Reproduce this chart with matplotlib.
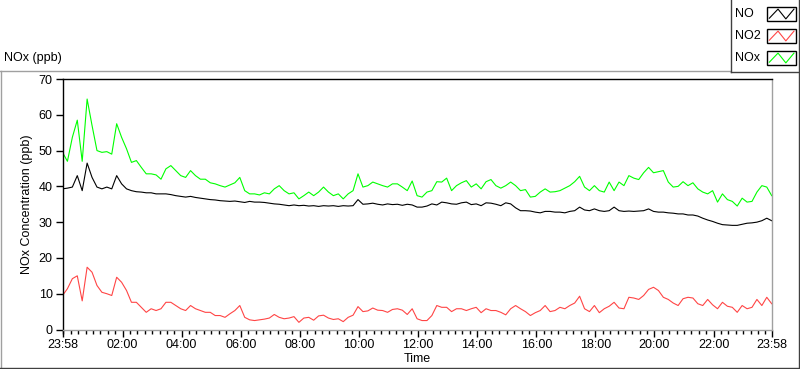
import numpy as np
import matplotlib
matplotlib.use('Agg')
import matplotlib.pyplot as plt
from matplotlib.lines import Line2D
from matplotlib.patches import Rectangle
from matplotlib.ticker import FixedLocator

plt.rcParams['font.family'] = ['Liberation Sans', 'DejaVu Sans']
plt.rcParams['font.size'] = 9

# minutes after 23:58, one reading every 10 min over 24 h
minutes = np.arange(0, 1441, 10)

no = [39.3, 39.5, 39.8, 43.0, 38.8, 46.5, 42.5, 39.8, 39.3, 39.8, 39.3, 43.0,
      40.7, 39.3, 38.8, 38.5, 38.4, 38.2, 38.2, 37.9, 37.9, 37.9, 37.7, 37.4,
      37.2, 37.0, 37.2, 36.9, 36.7, 36.5, 36.3, 36.2, 36.0, 35.9, 35.8, 35.9,
      35.7, 35.5, 35.8, 35.6, 35.6, 35.5, 35.3, 35.1, 35.0, 34.8, 34.6, 34.8,
      34.6, 34.7, 34.5, 34.6, 34.4, 34.6, 34.5, 34.6, 34.4, 34.6, 34.5, 34.6,
      36.3, 35.0, 35.1, 35.3, 35.0, 34.8, 35.1, 34.9, 35.0, 34.7, 35.0, 34.8,
      34.2, 34.2, 34.5, 35.1, 34.8, 35.6, 35.4, 35.1, 35.0, 35.4, 35.6, 34.9,
      35.1, 34.6, 35.4, 35.3, 35.0, 34.6, 35.4, 35.1, 34.0, 33.2, 33.2, 33.1,
      32.8, 32.6, 33.0, 33.0, 32.8, 32.8, 32.6, 33.0, 33.2, 34.2, 33.4, 33.2,
      33.7, 33.2, 33.0, 33.2, 34.2, 33.2, 33.0, 33.1, 33.0, 33.1, 33.2, 33.7,
      33.0, 32.8, 32.8, 32.6, 32.5, 32.3, 32.3, 32.0, 32.0, 31.7, 31.1, 30.6,
      30.2, 29.7, 29.3, 29.2, 29.1, 29.1, 29.4, 29.7, 29.8, 30.0, 30.4, 31.1,
      30.4]

no2 = [9.5, 11.4, 14.2, 15.0, 8.0, 17.4, 16.0, 12.3, 10.4, 10.0, 9.5, 14.6,
       13.2, 10.9, 7.6, 7.6, 6.2, 4.8, 5.8, 5.3, 5.8, 7.6, 7.6, 6.7,
       5.8, 5.3, 6.7, 5.8, 5.3, 4.8, 4.8, 3.9, 3.9, 3.4, 4.4, 5.3,
       6.7, 3.4, 2.7, 2.5, 2.7, 2.9, 3.2, 4.2, 3.4, 3.0, 3.2, 3.6,
       2.0, 3.2, 3.4, 2.6, 3.8, 4.0, 3.2, 2.8, 3.0, 2.2, 3.4, 4.0,
       6.4, 5.0, 5.2, 6.0, 5.4, 5.3, 4.8, 5.6, 5.8, 5.4, 4.2, 5.8,
       3.0, 2.5, 2.5, 3.9, 6.7, 6.2, 6.2, 5.0, 5.8, 5.8, 5.3, 5.8,
       6.2, 4.7, 5.8, 5.3, 5.3, 4.8, 4.1, 5.8, 6.7, 5.8, 5.0, 3.9,
       4.7, 5.3, 6.7, 5.0, 5.3, 6.2, 5.8, 6.7, 7.4, 9.3, 5.8, 5.0,
       6.7, 4.7, 5.8, 6.5, 7.6, 6.0, 5.8, 9.0, 8.8, 8.4, 9.5, 11.2,
       11.8, 10.9, 9.0, 8.4, 7.4, 6.7, 8.6, 9.0, 8.8, 7.2, 6.7, 8.4,
       6.9, 5.8, 7.6, 6.5, 6.2, 4.8, 6.7, 5.8, 6.2, 8.4, 6.7, 9.0,
       7.2]

nox = [49.5, 47.0, 53.7, 58.5, 47.0, 64.4, 57.0, 50.0, 49.5, 49.7, 49.0, 57.5,
       53.7, 50.5, 46.7, 47.2, 45.3, 43.5, 43.5, 43.2, 42.0, 44.9, 45.8, 44.4,
       43.0, 42.5, 44.4, 43.0, 42.0, 42.0, 41.0, 40.7, 40.2, 39.8, 40.4, 41.0,
       42.5, 38.8, 37.9, 37.9, 37.6, 38.2, 37.9, 39.3, 40.2, 38.8, 37.9, 38.2,
       36.5, 37.4, 38.4, 37.4, 38.4, 39.8, 38.4, 37.4, 37.9, 36.5, 37.9, 38.8,
       43.5, 39.8, 40.2, 41.2, 40.7, 40.2, 39.8, 40.7, 40.7, 39.8, 38.8, 41.5,
       37.4, 37.0, 38.4, 38.8, 41.3, 41.2, 42.3, 38.8, 40.2, 41.0, 41.6, 39.8,
       40.7, 39.3, 41.3, 41.9, 40.2, 39.5, 40.2, 41.2, 40.2, 38.8, 39.1, 37.0,
       37.2, 38.4, 39.3, 38.4, 38.5, 38.8, 39.5, 40.2, 41.3, 42.8, 39.8, 38.8,
       40.2, 38.8, 38.4, 41.2, 38.8, 41.2, 40.2, 43.0, 42.3, 41.9, 43.8, 45.3,
       43.8, 44.1, 44.4, 41.2, 39.8, 40.0, 41.3, 40.2, 41.0, 39.3, 38.4, 37.9,
       38.8, 35.6, 37.9, 36.3, 35.8, 34.5, 36.7, 35.6, 35.8, 38.4, 40.2, 39.8,
       37.4]

tick_pos = [0, 122, 242, 362, 482, 602, 722, 842, 962, 1082, 1202, 1322, 1440]
tick_labels = ['23:58', '02:00', '04:00', '06:00', '08:00', '10:00', '12:00',
               '14:00', '16:00', '18:00', '20:00', '22:00', '23:58']

W, H = 800, 369
fig = plt.figure(figsize=(W / 100, H / 100), dpi=100)


def fx(x):
    return x / W


def fy(y):
    return 1 - y / H


ax = fig.add_axes([fx(62.5), fy(329.5), (771.7 - 62.5) / W, (329.5 - 79) / H])
l_nox, = ax.plot(minutes, nox, color='#00ff00', lw=0.8, label='NOx')
l_no2, = ax.plot(minutes, no2, color='#ff4545', lw=0.8, label='NO2')
l_no, = ax.plot(minutes, no, color='black', lw=0.8, label='NO')

ax.set_xlim(0, 1440)
ax.set_ylim(0, 70)
ax.set_yticks(range(0, 71, 10))
ax.set_xticks(tick_pos)
ax.set_xticklabels(tick_labels)
ax.xaxis.set_minor_locator(FixedLocator(np.arange(2, 1440, 15)))
ax.tick_params(axis='both', length=5, width=1, color='black', pad=2)
ax.tick_params(axis='x', which='minor', length=3, width=1)
for s in ['top', 'left']:
    ax.spines[s].set_color('black')
for s in ['bottom', 'right']:
    ax.spines[s].set_color('#a0a0a0')
for s in ax.spines.values():
    s.set_linewidth(1)

ax.set_ylabel('NOx Concentration (ppb)', labelpad=4)
ax.set_xlabel('Time', labelpad=1)

fig.text(fx(4), fy(58), 'NOx (ppb)', ha='left', va='center')

# outer frame
fig.add_artist(Line2D([fx(0), fx(730)], [fy(70.5), fy(70.5)], color='#a0a0a0', lw=1))
fig.add_artist(Line2D([fx(0.5), fx(0.5)], [fy(70.5), fy(368)], color='#a0a0a0', lw=1))
fig.add_artist(Line2D([fx(0), fx(800)], [fy(367.5), fy(367.5)], color='#404040', lw=1))
fig.add_artist(Line2D([fx(798.5), fx(798.5)], [fy(0), fy(368)], color='#404040', lw=1))

# legend box (text on the left, zigzag swatch on the right)
fig.add_artist(Line2D([fx(730.5), fx(730.5)], [fy(0), fy(72)], color='#404040', lw=1))
fig.add_artist(Line2D([fx(730.5), fx(799)], [fy(71.5), fy(71.5)], color='#404040', lw=1))
for i, ln in enumerate([l_no, l_no2, l_nox]):
    cy = 14 + i * 22
    fig.text(fx(735), fy(cy), ln.get_label(), ha='left', va='center')
    fig.add_artist(Rectangle((fx(767), fy(cy + 7)), 29 / W, 14 / H,
                             facecolor='white', edgecolor='black', lw=1))
    zx = 767 + 29 * np.array([0.08, 0.38, 0.65, 0.93])
    zy = cy + 7 - 14 * np.array([0.2, 0.85, 0.15, 0.85])
    fig.add_artist(Line2D(fx(zx), fy(zy), color=ln.get_color(), lw=0.8))

fig.savefig('out.png', dpi=100)
